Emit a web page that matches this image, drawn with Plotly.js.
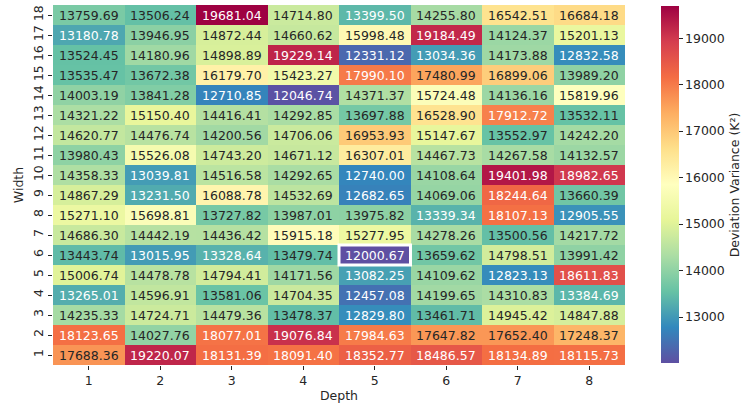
<!DOCTYPE html>
<html>
<head>
<meta charset="utf-8">
<script src="https://cdn.plot.ly/plotly-3.0.1.min.js"></script>
<style>html,body{margin:0;padding:0;background:#fff;}#chart{width:747px;height:408px;}</style>
</head>
<body>
<div id="chart"></div>
<script>
const depths = [1, 2, 3, 4, 5, 6, 7, 8];
const widths = [1, 2, 3, 4, 5, 6, 7, 8, 9, 10, 11, 12, 13, 14, 15, 16, 17, 18];
const colorbarTicks = [13000, 14000, 15000, 16000, 17000, 18000, 19000];

const width1  = [17688.36, 19220.07, 18131.39, 18091.40, 18352.77, 18486.57, 18134.89, 18115.73];
const width2  = [18123.65, 14027.76, 18077.01, 19076.84, 17984.63, 17647.82, 17652.40, 17248.37];
const width3  = [14235.33, 14724.71, 14479.36, 13478.37, 12829.80, 13461.71, 14945.42, 14847.88];
const width4  = [13265.01, 14596.91, 13581.06, 14704.35, 12457.08, 14199.65, 14310.83, 13384.69];
const width5  = [15006.74, 14478.78, 14794.41, 14171.56, 13082.25, 14109.62, 12823.13, 18611.83];
const width6  = [13443.74, 13015.95, 13328.64, 13479.74, 12000.67, 13659.62, 14798.51, 13991.42];
const width7  = [14686.30, 14442.19, 14436.42, 15915.18, 15277.95, 14278.26, 13500.56, 14217.72];
const width8  = [15271.10, 15698.81, 13727.82, 13987.01, 13975.82, 13339.34, 18107.13, 12905.55];
const width9  = [14867.29, 13231.50, 16088.78, 14532.69, 12682.65, 14069.06, 18244.64, 13660.39];
const width10 = [14358.33, 13039.81, 14516.58, 14292.65, 12740.00, 14108.64, 19401.98, 18982.65];
const width11 = [13980.43, 15526.08, 14743.20, 14671.12, 16307.01, 14467.73, 14267.58, 14132.57];
const width12 = [14620.77, 14476.74, 14200.56, 14706.06, 16953.93, 15147.67, 13552.97, 14242.20];
const width13 = [14321.22, 15150.40, 14416.41, 14292.85, 13697.88, 16528.90, 17912.72, 13532.11];
const width14 = [14003.19, 13841.28, 12710.85, 12046.74, 14371.37, 15724.48, 14136.16, 15819.96];
const width15 = [13535.47, 13672.38, 16179.70, 15423.27, 17990.10, 17480.99, 16899.06, 13989.20];
const width16 = [13524.45, 14180.96, 14898.89, 19229.14, 12331.12, 13034.36, 14173.88, 12832.58];
const width17 = [13180.78, 13946.95, 14872.44, 14660.62, 15998.48, 19184.49, 14124.37, 15201.13];
const width18 = [13759.69, 13506.24, 19681.04, 14714.80, 13399.50, 14255.80, 16542.51, 16684.18];

const z = [width1, width2, width3, width4, width5, width6, width7, width8, width9,
           width10, width11, width12, width13, width14, width15, width16, width17, width18];

const spectralR = ['#5e4fa2','#3288bd','#66c2a5','#abdda4','#e6f598','#ffffbf',
                   '#fee08b','#fdae61','#f46d43','#d53e4f','#9e0142'];
const colorscale = spectralR.map((c, i) => [i / (spectralR.length - 1), c]);

let zmin = Infinity, zmax = -Infinity, minR = 0, minC = 0;
z.forEach((row, r) => row.forEach((v, c) => {
  if (v < zmin) { zmin = v; minR = r; minC = c; }
  if (v > zmax) zmax = v;
}));

function hex2rgb(h) { return [1,3,5].map(i => parseInt(h.substr(i,2),16)/255); }
function colorAt(v) {
  let t = (v - zmin) / (zmax - zmin);
  t = Math.max(0, Math.min(1, t));
  const n = spectralR.length - 1;
  const i = Math.min(n - 1, Math.floor(t * n));
  const f = t * n - i;
  const a = hex2rgb(spectralR[i]), b = hex2rgb(spectralR[i+1]);
  return a.map((x, k) => x + (b[k] - x) * f);
}
function lum(rgb) {
  const lin = rgb.map(c => c <= 0.03928 ? c / 12.92 : Math.pow((c + 0.055) / 1.055, 2.4));
  return 0.2126 * lin[0] + 0.7152 * lin[1] + 0.0722 * lin[2];
}

const annotations = [];
z.forEach((row, r) => row.forEach((v, c) => {
  annotations.push({
    x: depths[c], y: widths[r], xref: 'x', yref: 'y',
    text: v.toFixed(2), showarrow: false,
    font: {family: 'DejaVu Sans', size: 12.5, color: lum(colorAt(v)) > 0.408 ? '#262626' : '#ffffff'}
  });
}));

const trace = {
  type: 'heatmap', x: depths, y: widths, z: z,
  colorscale: colorscale, zmin: zmin, zmax: zmax,
  xgap: 0, ygap: 0, hoverinfo: 'skip',
  colorbar: {
    thickness: 18, len: 0.992, lenmode: 'fraction', y: 0.5, yanchor: 'middle',
    x: 1.0625, xanchor: 'left', xpad: 0, ypad: 0, outlinewidth: 0,
    ticks: 'outside', ticklen: 4, tickcolor: '#262626',
    tickvals: colorbarTicks, ticktext: colorbarTicks.map(String),
    tickfont: {family: 'DejaVu Sans', size: 12.5, color: '#262626'},
    title: {text: 'Deviation Variance (K²)', side: 'right',
            font: {family: 'DejaVu Sans', size: 12.5, color: '#262626'}}
  }
};

const layout = {
  width: 747, height: 408,
  margin: {l: 53, r: 118, t: 5, b: 43, pad: 0},
  paper_bgcolor: '#ffffff', plot_bgcolor: '#ffffff',
  font: {family: 'DejaVu Sans', size: 12.5, color: '#262626'},
  xaxis: {
    tickvals: depths, ticktext: depths.map(String),
    range: [0.5, 8.5], showgrid: false, zeroline: false, showline: false,
    ticks: 'outside', ticklen: 4, tickcolor: '#262626',
    title: {text: 'Depth', standoff: 4, font: {family: 'DejaVu Sans', size: 12.5, color: '#262626'}}
  },
  yaxis: {
    tickvals: widths, ticktext: widths.map(String), tickangle: -90,
    range: [0.5, 18.5], showgrid: false, zeroline: false, showline: false,
    ticks: 'outside', ticklen: 4, tickcolor: '#262626',
    title: {text: 'Width', standoff: 4, font: {family: 'DejaVu Sans', size: 12.5, color: '#262626'}}
  },
  shapes: [{
    type: 'rect', xref: 'x', yref: 'y',
    x0: depths[minC] - 0.5, x1: depths[minC] + 0.5,
    y0: widths[minR] - 0.5, y1: widths[minR] + 0.5,
    line: {color: '#ffffff', width: 3}
  }],
  annotations: annotations
};

Plotly.newPlot('chart', [trace], layout, {displayModeBar: false, staticPlot: true});
</script>
</body>
</html>
